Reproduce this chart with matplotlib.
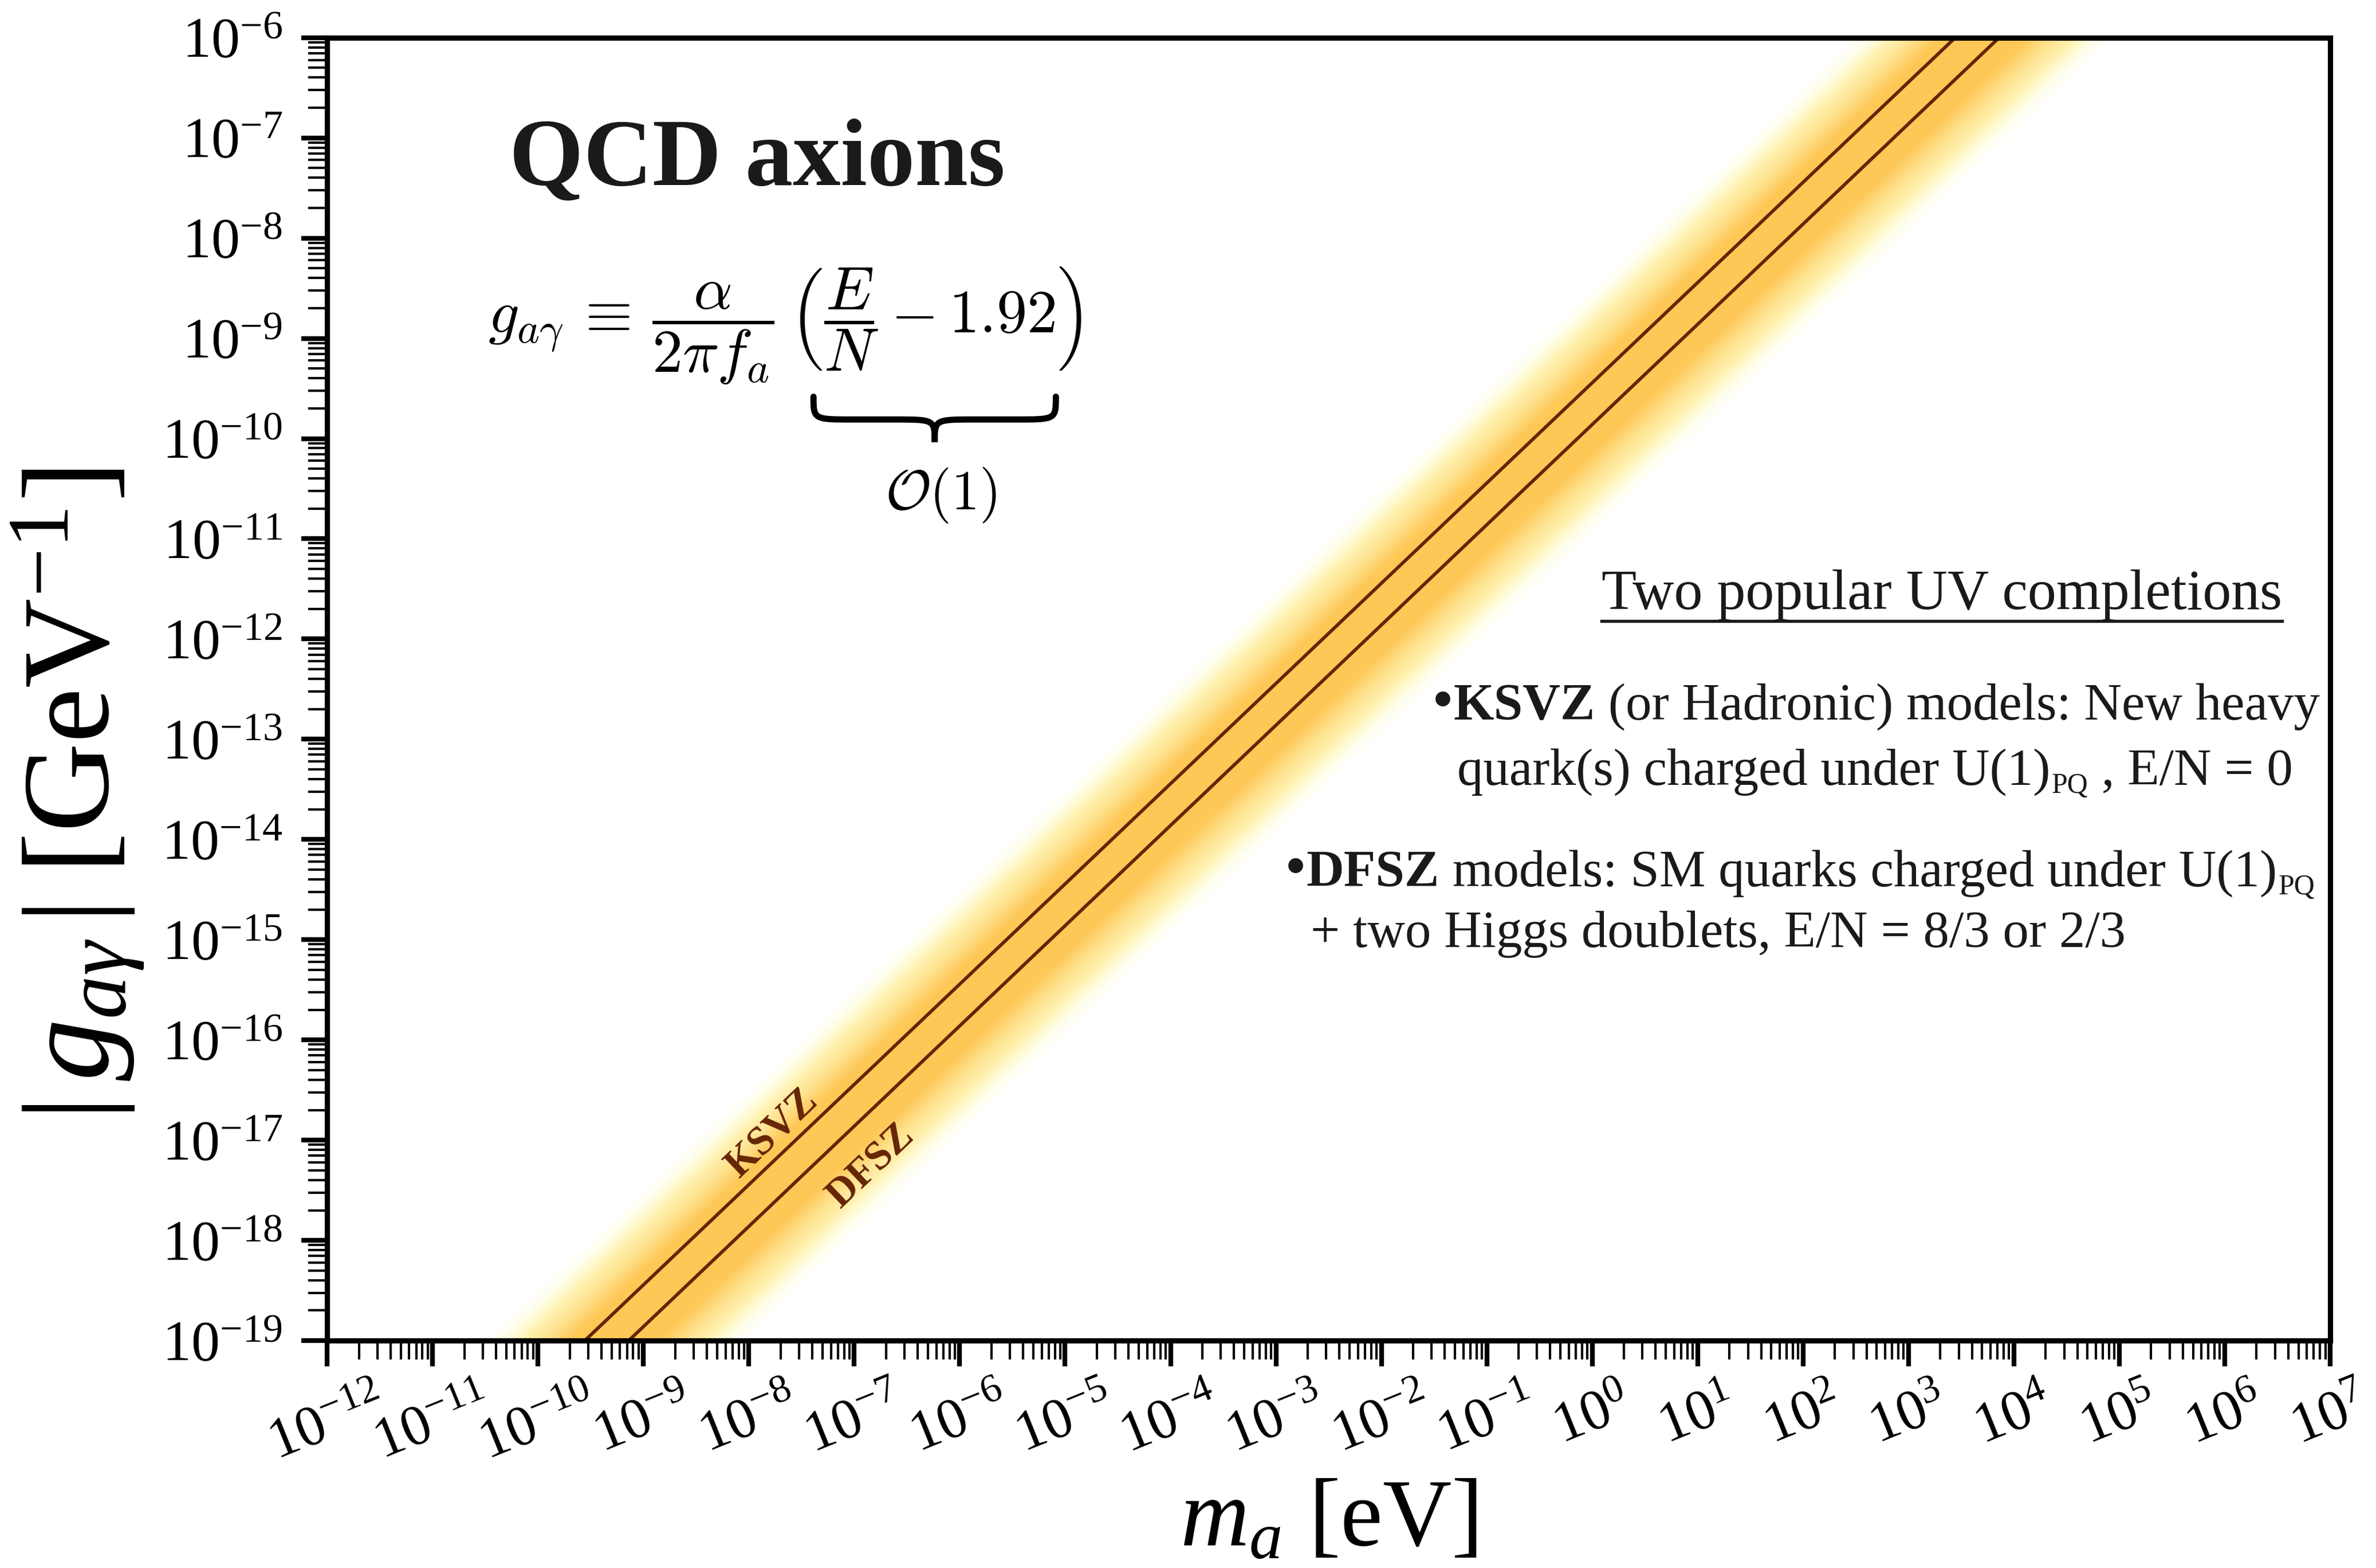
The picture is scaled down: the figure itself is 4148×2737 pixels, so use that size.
import numpy as np
import matplotlib
matplotlib.use('Agg')
import matplotlib.pyplot as plt
from matplotlib import ticker
from matplotlib.path import Path
from matplotlib.patches import PathPatch
from matplotlib.transforms import offset_copy

# axis ranges
m_lim = [1e-12, 1e7]     # eV
g_lim = [1e-19, 1e-6]    # GeV^-1

# model lines, end points taken past the frame
m_ends = [1e-13, 1e8]
g_ksvz = [3.6e-23, 3.6e-2]
g_dfsz = [1.38e-23, 1.38e-2]
g_band_mid = [1.9e-23, 1.9e-2]
band_hw = 1.25           # half width of the band, decades

# line labels
labels = ['KSVZ', 'DFSZ']
label_m = [1.67e-8, 1.44e-7]
label_g = [1.17e-17, 5.5e-18]

plt.rcParams['font.family'] = 'serif'
plt.rcParams['font.serif'] = ['Liberation Serif', 'DejaVu Serif']
plt.rcParams['mathtext.fontset'] = 'custom'
plt.rcParams['mathtext.rm'] = 'Liberation Serif'
plt.rcParams['mathtext.it'] = 'Liberation Serif:italic'
plt.rcParams['mathtext.bf'] = 'Liberation Serif:bold'

fig = plt.figure(figsize=(4148/300, 2737/300), dpi=300)
ax = fig.add_axes([0.1377, 0.145, 0.9807-0.1377, 0.976-0.145])
ax.set_xscale('log')
ax.set_yscale('log')
ax.set_xlim(m_lim)
ax.set_ylim(g_lim)

# gradient band: nested fills from the pale edge to the saturated core
cmap = plt.get_cmap('YlOrBr')
vmax = 0.36
n = 100
mid = np.array(g_band_mid)
for i in range(n):
    w = band_hw*(1 - i/n)
    s = 1 - w/band_hw
    v = vmax*min(1.0, s/0.66)
    a = min(1.0, s/0.3)
    c = np.array(cmap(v)[:3])*a + np.ones(3)*(1 - a)
    ax.fill_between(m_ends, mid/10**w, mid*10**w, color=c, lw=0, zorder=1)

line_col = cmap(1.0)
ax.plot(m_ends, g_ksvz, color=line_col, lw=1.4, zorder=3)
ax.plot(m_ends, g_dfsz, color=line_col, lw=1.4, zorder=3)

p = ax.transData.transform(np.column_stack([m_ends, g_ksvz]))
rot = np.degrees(np.arctan2(p[1, 1]-p[0, 1], p[1, 0]-p[0, 0]))
for lab, lm, lg in zip(labels, label_m, label_g):
    ax.text(lm, lg, lab, color=line_col, fontsize=17, fontweight='bold',
            rotation=rot, rotation_mode='anchor', ha='center', va='center', zorder=4)

# axes styling
for sp in ax.spines.values():
    sp.set_linewidth(2.2)
    sp.set_zorder(10)
ax.xaxis.set_major_locator(ticker.LogLocator(base=10, numticks=40))
ax.yaxis.set_major_locator(ticker.LogLocator(base=10, numticks=40))
ax.xaxis.set_minor_locator(ticker.LogLocator(base=10, subs=np.arange(2, 10), numticks=400))
ax.yaxis.set_minor_locator(ticker.LogLocator(base=10, subs=np.arange(2, 10), numticks=400))
ax.xaxis.set_minor_formatter(ticker.NullFormatter())
ax.yaxis.set_minor_formatter(ticker.NullFormatter())
ax.tick_params(which='major', direction='out', length=10.8, width=2.0, labelsize=24,
               top=False, right=False)
ax.tick_params(which='minor', direction='out', length=8, width=1.0, top=False, right=False)
ax.tick_params(axis='y', which='major', pad=8)
ax.tick_params(axis='x', which='major', pad=5)
for t in ax.get_xticklabels():
    t.set_rotation(22)
    t.set_ha('center')

ax.text(0.5, -0.157, r'$m_a$ [eV]', transform=ax.transAxes, fontsize=40,
        ha='center', va='baseline')
ax.text(-0.1245, 0.419, r'$|\,g_{a\gamma}\,|\;$[GeV$^{-1}$]', transform=ax.transAxes,
        fontsize=52, rotation=90, ha='center', va='center')

# title and formula
txtc = '#1a1a1a'
ax.text(0.2148, 0.887, 'QCD axions', transform=ax.transAxes, fontsize=40,
        fontweight='bold', ha='center', va='baseline', color=txtc)
ax.text(0.0802, 0.779,
        r'$g_{a\gamma}\,\equiv\,\dfrac{\alpha}{2\pi f_a}\,\left(\dfrac{E}{N} - 1.92\right)$',
        transform=ax.transAxes, fontsize=25.5, ha='left', va='center', math_fontfamily='cm')
ax.text(0.3064, 0.649, r'$\mathcal{O}(1)$', transform=ax.transAxes, fontsize=23.5,
        ha='center', va='center', math_fontfamily='cm')

# underbrace
x0, x1, yt, yb = 0.2428, 0.3638, 0.7244, 0.6895
xm, ym, q = (x0 + x1)/2, (yt + yb)/2, 0.02
verts = [(x0, yt), (x0, ym), (x0, ym), (x0+q, ym), (xm-q, ym),
         (xm, ym), (xm, ym), (xm, yb),
         (xm, ym), (xm, ym), (xm+q, ym), (x1-q, ym),
         (x1, ym), (x1, ym), (x1, yt)]
codes = [Path.MOVETO, Path.CURVE4, Path.CURVE4, Path.CURVE4, Path.LINETO,
         Path.CURVE4, Path.CURVE4, Path.CURVE4,
         Path.CURVE4, Path.CURVE4, Path.CURVE4, Path.LINETO,
         Path.CURVE4, Path.CURVE4, Path.CURVE4]
ax.add_patch(PathPatch(Path(verts, codes), fc='none', ec='k', lw=2.6,
                       transform=ax.transAxes, clip_on=False, capstyle='round'))

# right-hand text block, written piece by piece along each baseline
fs = 21.8
renderer = fig.canvas.get_renderer()
inv = ax.transAxes.inverted()
normal = dict(fontsize=fs, color=txtc)
bullet = dict(fontsize=26, color=txtc)
bold = dict(fontsize=fs, color=txtc, fontweight='bold')
sub = dict(fontsize=12, color=txtc, sub=True)


def write_line(x, y, pieces):
    for s, kw in pieces:
        kw = dict(kw)
        tr = ax.transAxes
        if kw.pop('sub', False):
            tr = offset_copy(ax.transAxes, fig=fig, x=0.5, y=-3.5, units='points')
        t = ax.text(x, y, s, transform=tr, ha='left', va='baseline', **kw)
        bb = t.get_window_extent(renderer).transformed(inv)
        x = bb.x1


hdr = ax.text(0.806, 0.5616, 'Two popular UV completions', transform=ax.transAxes,
              fontsize=24, ha='center', va='baseline', color=txtc)
write_line(0.5515, 0.4767, [('•', bullet), ('KSVZ', bold),
                            (' (or Hadronic) models: New heavy', normal)])
write_line(0.5643, 0.4267, [('quark(s) charged under U(1)', normal), ('PQ', sub),
                            (' , E/N = 0', normal)])
write_line(0.478, 0.3488, [('•', bullet), ('DFSZ', bold),
                           (' models: SM quarks charged under U(1)', normal), ('PQ', sub)])
write_line(0.491, 0.3023, [('+ two Higgs doublets, E/N = 8/3 or 2/3', normal)])

bb = hdr.get_window_extent(renderer).transformed(inv)
ax.plot([bb.x0, bb.x1], [0.5523, 0.5523], transform=ax.transAxes, color=txtc,
        lw=1.3, clip_on=False)

fig.savefig('out.png', dpi=300)
